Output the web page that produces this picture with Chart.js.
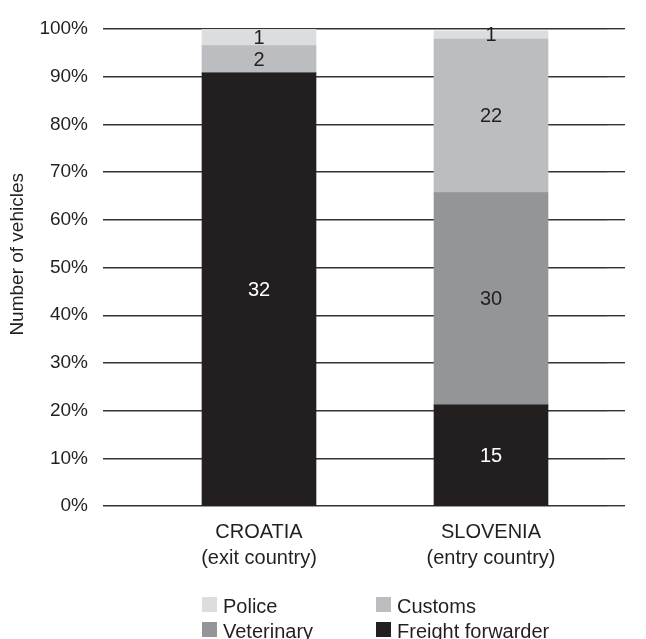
<!DOCTYPE html>
<html>
<head>
<meta charset="utf-8">
<script src="https://cdn.jsdelivr.net/npm/chart.js@4.4.1/dist/chart.umd.min.js"></script>
<style>
html,body{margin:0;padding:0;background:#ffffff;}
#wrap{position:relative;width:646px;height:639px;}
</style>
</head>
<body>
<div id="wrap"><canvas id="c" width="646" height="639"></canvas></div>
<script>
// ---- data ----
const categories = [['CROATIA', '(exit country)'], ['SLOVENIA', '(entry country)']];
const seriesNames = ['Freight forwarder', 'Veterinary', 'Customs', 'Police'];
const freightPct  = [90.8, 21.2];
const vetPct      = [0,    44.5];
const customsPct  = [5.7,  32.2];
const policePct   = [3.5,  1.7];
const freightCount = [32, 15];
const vetCount     = [null, 30];
const customsCount = [2, 22];
const policeCount  = [1, 1];
const yTickValues  = [0, 10, 20, 30, 40, 50, 60, 70, 80, 90, 100];
const legendOrder  = ['Police', 'Customs', 'Veterinary', 'Freight forwarder'];

const colors = {
  'Freight forwarder': '#231f20',
  'Veterinary': '#939598',
  'Customs': '#bcbdc0',
  'Police': '#dcdddf'
};
const labelColors = {
  'Freight forwarder': '#ffffff',
  'Veterinary': '#231f20',
  'Customs': '#231f20',
  'Police': '#231f20'
};
const FONT = "'Liberation Sans', Arial, sans-serif";
const TEXT = '#231f20';
const GRID = '#333333';

const pctSeries = [freightPct, vetPct, customsPct, policePct];
const countSeries = [freightCount, vetCount, customsCount, policeCount];

const datasets = seriesNames.map((name, i) => ({
  label: name,
  data: pctSeries[i],
  counts: countSeries[i],
  backgroundColor: colors[name],
  borderWidth: 0,
  barThickness: 114,
  stack: 's'
}));

const valueLabels = {
  id: 'valueLabels',
  afterDatasetsDraw(chart) {
    const ctx = chart.ctx;
    ctx.save();
    ctx.font = '20px ' + FONT;
    ctx.textAlign = 'center';
    ctx.textBaseline = 'middle';
    chart.data.datasets.forEach((ds, di) => {
      const meta = chart.getDatasetMeta(di);
      meta.data.forEach((el, i) => {
        const c = ds.counts[i];
        if (c == null) return;
        ctx.fillStyle = labelColors[ds.label];
        ctx.fillText(String(c), el.x, (el.y + el.base) / 2 + 1);
      });
    });
    ctx.restore();
  }
};

const customLegend = {
  id: 'customLegend',
  afterDraw(chart) {
    const ctx = chart.ctx;
    const meta = chart.getDatasetMeta(0);
    const el = meta.data[0];
    const x0 = el.x - el.width / 2;
    ctx.save();
    ctx.font = '20px ' + FONT;
    ctx.textBaseline = 'alphabetic';
    ctx.textAlign = 'left';
    legendOrder.forEach((name, idx) => {
      const col = idx % 2, row = Math.floor(idx / 2);
      const x = x0 + col * 174;
      const y = 597 + row * 25;
      ctx.fillStyle = colors[name];
      ctx.fillRect(x, y, 15, 15);
      ctx.fillStyle = TEXT;
      ctx.fillText(name, x + 21, y + 16);
    });
    ctx.restore();
  }
};

new Chart(document.getElementById('c'), {
  type: 'bar',
  data: { labels: categories, datasets: datasets },
  options: {
    responsive: false,
    animation: false,
    devicePixelRatio: 1,
    layout: { padding: { top: 29, right: 21, left: 0, bottom: 0 } },
    plugins: { legend: { display: false }, tooltip: { enabled: false } },
    scales: {
      x: {
        stacked: true,
        grid: { display: false, drawTicks: false },
        border: { display: false },
        ticks: { color: TEXT, font: { family: FONT, size: 20, lineHeight: 1.33 }, padding: 13, maxRotation: 0, autoSkip: false },
        afterFit(s) { s.height = 133; }
      },
      y: {
        stacked: true,
        min: 0, max: 100,
        afterBuildTicks(s) { s.ticks = yTickValues.map(v => ({ value: v })); },
        grid: { color: GRID, lineWidth: 1.4, tickLength: 40, drawTicks: true },
        border: { display: false },
        ticks: { color: TEXT, font: { family: FONT, size: 19 }, padding: 15, callback: v => v + '%' },
        title: { display: true, text: '     Number of vehicles', color: TEXT, font: { family: FONT, size: 19 }, padding: { top: 6, bottom: 0 } },
        afterFit(s) { s.width = 143; }
      },
      y2: {
        position: 'right',
        min: 0, max: 100,
        afterBuildTicks(s) { s.ticks = yTickValues.map(v => ({ value: v })); },
        grid: { color: GRID, lineWidth: 1.4, tickLength: 18, drawTicks: true, drawOnChartArea: false },
        border: { display: false },
        ticks: { display: false },
        afterFit(s) { s.width = 18; }
      }
    }
  },
  plugins: [valueLabels, customLegend]
});
</script>
</body>
</html>
